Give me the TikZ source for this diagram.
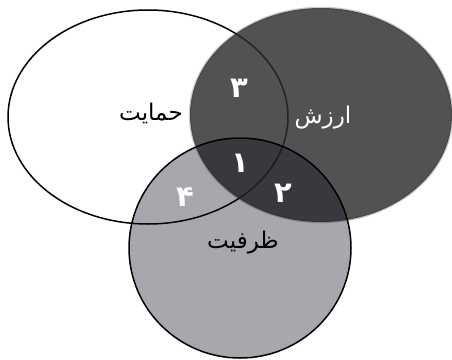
\documentclass[tikz,border=0pt]{standalone}
\usepackage{fontspec}
\usepackage{tikz}
\newfontfamily\arabicfont[Script=Arabic]{DejaVu Sans}
\TeXXeTstate=1
\definecolor{valuefill}{HTML}{2C2C2C}
\definecolor{capfill}{HTML}{0E0C1C}
\definecolor{ink}{HTML}{000000}
\tikzset{
  setlabel/.style={font=\arabicfont\fontsize{23}{26}\selectfont},
  zonenum/.style={white, font=\arabicfont\bfseries\fontsize{29}{32}\selectfont}
}

\begin{document}
\begin{tikzpicture}[x=1pt,y=-1pt]
  \useasboundingbox (0,0) rectangle (452,359);
  % three sets
  \filldraw[fill=white, draw=ink, line width=1.5pt] (148,117) ellipse (140pt and 107pt);
  \fill[valuefill, opacity=0.82] (321,115) ellipse (131pt and 107pt);
  \draw[valuefill, opacity=0.25, line width=2.5pt] (321,115) ellipse (131pt and 107pt);
  \filldraw[fill=capfill, fill opacity=0.36, draw=ink, line width=1.5pt] (240,248) ellipse (111pt and 110pt);
  % names
  \node[setlabel, ink] (support) at (151,113) {\beginR حمایت\endR};
  \node[setlabel, white] (value) at (323,118) {\beginR ارزش\endR};
  \node[setlabel, ink] (capacity) at (243,243) {\beginR ظرفیت\endR};
  % zones
  \node[zonenum] (zthree) at (239,88) {۳};
  \node[zonenum] (zone) at (240,163) {۱};
  \node[zonenum] (ztwo) at (283,193) {۲};
  \node[zonenum] (zfour) at (185,197) {۴};
\end{tikzpicture}
\end{document}
